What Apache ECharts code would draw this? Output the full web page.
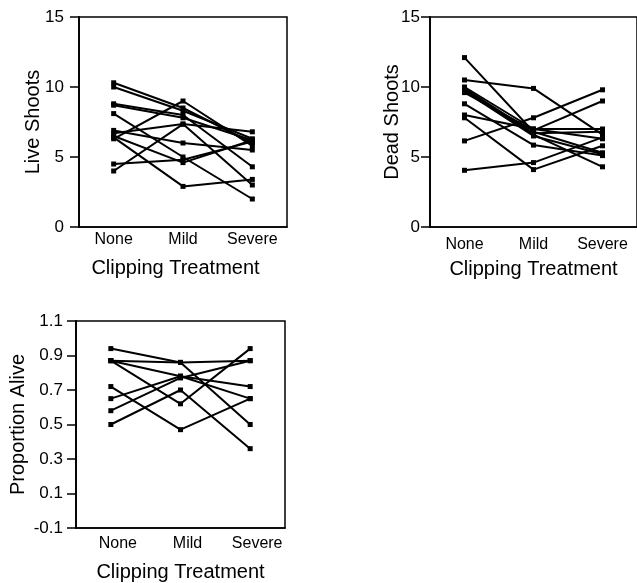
<!DOCTYPE html>
<html>
<head>
<meta charset="utf-8">
<script src="https://cdn.jsdelivr.net/npm/echarts@6/dist/echarts.min.js"></script>
<style>
html,body{margin:0;padding:0;background:#fff;}
#c{width:637px;height:583px;}
</style>
</head>
<body>
<div id="c"></div>
<script>
const categories = ['None', 'Mild', 'Severe'];
const liveTicks = [0, 5, 10, 15];
const deadTicks = [0, 5, 10, 15];
const aliveTicks = [-0.1, 0.1, 0.3, 0.5, 0.7, 0.9, 1.1];

// each row: None, Mild, Severe
const liveShoots = [
  [10.3, 8.5, 6.0],
  [10.0, 8.3, 6.3],
  [8.8, 8.0, 4.3],
  [8.7, 7.8, 6.2],
  [8.1, 5.0, 2.0],
  [6.9, 6.0, 5.5],
  [6.7, 7.35, 3.0],
  [6.4, 2.9, 3.4],
  [6.3, 9.0, 5.8],
  [4.5, 4.8, 6.1],
  [4.0, 7.35, 6.8],
  [6.5, 4.6, 6.2]
];
const deadShoots = [
  [12.1, 6.8, 5.3],
  [10.5, 9.9, 6.6],
  [10.0, 7.0, 6.3],
  [9.8, 6.6, 4.3],
  [9.7, 6.5, 5.2],
  [9.6, 6.9, 9.0],
  [8.8, 5.85, 5.1],
  [8.0, 7.0, 7.0],
  [7.8, 4.1, 5.8],
  [6.15, 7.8, 9.8],
  [4.05, 4.6, 6.4],
  [9.9, 6.7, 6.8]
];
const proportionAlive = [
  [0.94, 0.86, 0.87],
  [0.87, 0.86, 0.50],
  [0.87, 0.78, 0.72],
  [0.87, 0.62, 0.94],
  [0.72, 0.47, 0.65],
  [0.65, 0.78, 0.65],
  [0.58, 0.77, 0.87],
  [0.50, 0.70, 0.36]
];

const FONT = 'Liberation Sans, Arial, Helvetica, sans-serif';
const chart = echarts.init(document.getElementById('c'), null, {renderer: 'canvas'});

function xAxis(gridIndex, labelMargin, nameGap, namePad, labelPad) {
  return {
    type: 'category', gridIndex: gridIndex, data: categories, boundaryGap: true,
    axisLine: {show: true, onZero: false, lineStyle: {color: '#000', width: 1.6}},
    axisTick: {show: false},
    axisLabel: {color: '#000', fontFamily: FONT, fontSize: 16, margin: labelMargin, padding: labelPad || 0},
    splitLine: {show: false},
    name: 'Clipping Treatment', nameLocation: 'middle', nameGap: nameGap, nameMoveOverlap: false,
    nameTextStyle: {color: '#000', fontFamily: FONT, fontSize: 20, padding: namePad || 0}
  };
}
function yAxis(gridIndex, min, max, interval, name, nameGap, labelMargin, fmt) {
  return {
    type: 'value', gridIndex: gridIndex, min: min, max: max, interval: interval,
    axisLine: {show: true, onZero: false, lineStyle: {color: '#000', width: 1.8}},
    axisTick: {show: true, inside: false, length: 9, lineStyle: {color: '#000', width: 1.5}},
    axisLabel: {color: '#000', fontFamily: FONT, fontSize: 17, margin: labelMargin, formatter: fmt},
    splitLine: {show: false},
    name: name, nameLocation: 'middle', nameGap: nameGap, nameRotate: 90, nameMoveOverlap: false,
    nameTextStyle: {color: '#000', fontFamily: FONT, fontSize: 20}
  };
}

const series = [];
function addPanel(rows, idx) {
  rows.forEach(function (row) {
    series.push({
      type: 'line', xAxisIndex: idx, yAxisIndex: idx, data: row,
      symbol: 'rect', symbolSize: 5, showSymbol: true,
      lineStyle: {color: '#000', width: 2},
      itemStyle: {color: '#000'},
      silent: true, animation: false
    });
  });
}
addPanel(liveShoots, 0);
addPanel(deadShoots, 1);
addPanel(proportionAlive, 2);

const gridStyle = {show: true, borderColor: '#000', borderWidth: 1.5, backgroundColor: 'transparent'};
chart.setOption({
  animation: false,
  backgroundColor: '#fff',
  grid: [
    Object.assign({left: 79, top: 17, width: 208, height: 210}, gridStyle),
    Object.assign({left: 430, top: 17, width: 213, height: 210}, gridStyle),
    Object.assign({left: 76, top: 321, width: 209, height: 208}, gridStyle)
  ],
  xAxis: [
    xAxis(0, 5, 31, [0, 15, 0, 0]),
    xAxis(1, 10, 32, [0, 0, 0, 0]),
    xAxis(2, 8, 34, [0, 0, 0, 0], [0, 0, 0, 14])
  ],
  yAxis: [
    yAxis(0, liveTicks[0], liveTicks[liveTicks.length - 1], 5, 'Live Shoots', 36, 15),
    yAxis(1, deadTicks[0], deadTicks[deadTicks.length - 1], 5, 'Dead Shoots', 28, 10),
    yAxis(2, aliveTicks[0], aliveTicks[aliveTicks.length - 1], 0.2, 'Proportion Alive', 48, 13,
      function (v) { return (Math.round(v * 10) / 10).toFixed(1); })
  ],
  series: series
});
</script>
</body>
</html>
